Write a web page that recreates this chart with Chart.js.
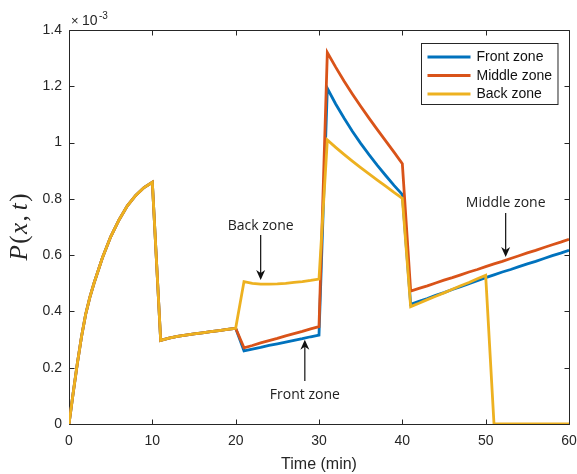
<!DOCTYPE html>
<html>
<head>
<meta charset="utf-8">
<script src="https://cdn.jsdelivr.net/npm/chart.js@4.4.0/dist/chart.umd.min.js"></script>
<style>
  html, body { margin: 0; padding: 0; background: #fff; }
</style>
</head>
<body>
<canvas id="zones" width="577" height="474"></canvas>
<script>
// sample times (min)
const times = [0, 0.5, 1, 1.5, 2, 2.5, 3, 4, 5, 6, 7, 8, 9, 10,
  11, 12, 13, 14, 15, 16, 17, 18, 19, 20,
  21, 22, 23, 24, 25, 26, 27, 28, 29, 30,
  31, 32, 33, 34, 35, 36, 37, 38, 39, 40,
  41, 42, 43, 44, 45, 46, 47, 48, 49, 50,
  51, 52, 53, 54, 55, 56, 57, 58, 59, 60];

// P(x,t) in units of 1e-3; all zones coincide up to t = 20
const sharedStart = [0, 0.11, 0.215, 0.31, 0.39, 0.45, 0.50, 0.59, 0.665, 0.725, 0.775, 0.812, 0.84, 0.859,
  0.297, 0.305, 0.311, 0.316, 0.320, 0.324, 0.328, 0.332, 0.336, 0.340];

const frontTail = [0.260, 0.266, 0.272, 0.279, 0.285, 0.291, 0.297, 0.303, 0.310, 0.316,
  1.193, 1.137, 1.087, 1.040, 0.997, 0.957, 0.919, 0.883, 0.848, 0.815,
  0.425, 0.436, 0.446, 0.457, 0.467, 0.478, 0.488, 0.499, 0.509, 0.520,
  0.530, 0.540, 0.549, 0.559, 0.569, 0.578, 0.588, 0.598, 0.607, 0.617];

const middleTail = [0.271, 0.279, 0.288, 0.296, 0.304, 0.313, 0.321, 0.329, 0.338, 0.346,
  1.320, 1.268, 1.219, 1.173, 1.129, 1.087, 1.046, 1.006, 0.966, 0.925,
  0.472, 0.482, 0.491, 0.501, 0.511, 0.520, 0.530, 0.540, 0.549, 0.559,
  0.569, 0.578, 0.588, 0.598, 0.608, 0.617, 0.627, 0.637, 0.646, 0.656];

const backTail = [0.506, 0.500, 0.497, 0.497, 0.498, 0.500, 0.503, 0.506, 0.510, 0.515,
  1.009, 0.983, 0.958, 0.934, 0.911, 0.889, 0.867, 0.845, 0.823, 0.802,
  0.417, 0.429, 0.442, 0.454, 0.466, 0.479, 0.491, 0.503, 0.516, 0.528,
  0, 0, 0, 0, 0, 0, 0, 0, 0, 0];

const zoneNames = ['Front zone', 'Middle zone', 'Back zone'];
const zoneColors = ['#0072BD', '#D95319', '#EDB120'];

const xTicks = [0, 10, 20, 30, 40, 50, 60];
const yTicks = [0, 0.2, 0.4, 0.6, 0.8, 1, 1.2, 1.4];

// arrow callouts: x (min), text centre, tail and tip (1e-3)
const callouts = [
  { text: 'Back zone', x: 23.0, textY: 0.704, tail: 0.672, tip: 0.512 },
  { text: 'Front zone', x: 28.3, textY: 0.103, tail: 0.153, tip: 0.299 },
  { text: 'Middle zone', x: 52.4, textY: 0.785, tail: 0.750, tip: 0.593 },
];

const AXIS_COLOR = '#262626';
const SANS = '"Liberation Sans", Arial, sans-serif';
const LINE_W = 2.8;

// frame on all four sides with inward ticks
const boxAxes = {
  id: 'boxAxes',
  beforeDatasetsDraw(chart) {
    const { ctx, chartArea: a, scales: { x, y } } = chart;
    const L = Math.round(a.left) + 0.5, R = Math.round(a.right) + 0.5;
    const T = Math.round(a.top) + 0.5, B = Math.round(a.bottom) + 0.5;
    ctx.save();
    ctx.strokeStyle = AXIS_COLOR;
    ctx.lineWidth = 1;
    ctx.beginPath();
    ctx.rect(L, T, R - L, B - T);
    xTicks.forEach(v => {
      const px = Math.round(x.getPixelForValue(v)) + 0.5;
      ctx.moveTo(px, B); ctx.lineTo(px, B - 5);
      ctx.moveTo(px, T); ctx.lineTo(px, T + 5);
    });
    yTicks.forEach(v => {
      const py = Math.round(y.getPixelForValue(v)) + 0.5;
      ctx.moveTo(L, py); ctx.lineTo(L + 5, py);
      ctx.moveTo(R, py); ctx.lineTo(R - 5, py);
    });
    ctx.stroke();
    ctx.restore();
  },
  afterDraw(chart) {
    const { ctx, chartArea: a } = chart;
    ctx.save();
    ctx.fillStyle = AXIS_COLOR;
    ctx.textBaseline = 'alphabetic';
    ctx.textAlign = 'left';
    // exponent marker above the y axis
    ctx.font = '13px ' + SANS;
    ctx.fillText('\u00d7', a.left + 2, a.top - 5);
    ctx.font = '14px ' + SANS;
    ctx.fillText('10', a.left + 13, a.top - 5);
    ctx.font = '10px ' + SANS;
    ctx.fillText('-3', a.left + 30, a.top - 11);

    // y label P(x,t), LaTeX style
    const parts = [['P', true], ['(', false], ['x', true], [',', false], ['t', true], [')', false]];
    const gaps = [1.5, 1.5, 1.5, 5, 1.5, 0];
    ctx.translate(20, (a.top + a.bottom) / 2);
    ctx.rotate(-Math.PI / 2);
    ctx.textBaseline = 'middle';
    let total = 0;
    const widths = parts.map(([s, it], i) => {
      ctx.font = (it ? 'italic ' : '') + '25px "Liberation Serif", "Times New Roman", serif';
      const w = ctx.measureText(s).width;
      total += w + gaps[i];
      return w;
    });
    let cx = -total / 2;
    parts.forEach(([s, it], i) => {
      ctx.font = (it ? 'italic ' : '') + '25px "Liberation Serif", "Times New Roman", serif';
      ctx.fillText(s, cx, 0);
      cx += widths[i] + gaps[i];
    });
    ctx.restore();
  }
};

// text + arrow callouts
const calloutPlugin = {
  id: 'callouts',
  afterDatasetsDraw(chart) {
    const { ctx, scales: { x, y } } = chart;
    ctx.save();
    ctx.strokeStyle = '#111';
    ctx.fillStyle = '#111';
    ctx.lineWidth = 1.2;
    callouts.forEach(c => {
      const px = x.getPixelForValue(c.x);
      const ty = y.getPixelForValue(c.textY);
      const y0 = y.getPixelForValue(c.tail);
      const y1 = y.getPixelForValue(c.tip);
      const dir = y1 > y0 ? 1 : -1;
      ctx.beginPath();
      ctx.moveTo(px, y0);
      ctx.lineTo(px, y1 - dir * 6);
      ctx.stroke();
      ctx.beginPath();
      ctx.moveTo(px, y1);
      ctx.lineTo(px - 4.5, y1 - dir * 10);
      ctx.lineTo(px, y1 - dir * 7);
      ctx.lineTo(px + 4.5, y1 - dir * 10);
      ctx.closePath();
      ctx.fill();
      ctx.font = '14px "Open Sans", "Noto Sans", sans-serif';
      ctx.textAlign = 'center';
      ctx.textBaseline = 'middle';
      ctx.fillStyle = '#222';
      ctx.fillText(c.text, px, ty);
      ctx.fillStyle = '#111';
    });
    ctx.restore();
  }
};

// boxed legend inside the top-right corner of the axes
const boxLegend = {
  id: 'boxLegend',
  afterDraw(chart) {
    const { ctx, chartArea: a } = chart;
    ctx.save();
    ctx.font = '14px ' + SANS;
    const textW = Math.max(...zoneNames.map(n => ctx.measureText(n).width));
    const w = 55 + textW + 6, h = 61;
    const left = Math.round(a.right - 12 - w) + 0.5, top = Math.round(a.top + 13) + 0.5;
    ctx.fillStyle = '#fff';
    ctx.fillRect(left, top, w, h);
    ctx.strokeStyle = AXIS_COLOR;
    ctx.lineWidth = 1;
    ctx.strokeRect(left, top, w, h);
    ctx.textBaseline = 'middle';
    ctx.textAlign = 'left';
    zoneNames.forEach((name, i) => {
      const ry = top + 13.5 + i * 18.5;
      ctx.strokeStyle = zoneColors[i];
      ctx.lineWidth = LINE_W;
      ctx.beginPath();
      ctx.moveTo(left + 6, ry);
      ctx.lineTo(left + 49, ry);
      ctx.stroke();
      ctx.fillStyle = '#111';
      ctx.fillText(name, left + 55, ry + 0.5);
    });
    ctx.restore();
  }
};

const series = [
  sharedStart.concat(frontTail),
  sharedStart.concat(middleTail),
  sharedStart.concat(backTail),
];

new Chart(document.getElementById('zones'), {
  type: 'line',
  data: {
    labels: times,
    datasets: series.map((vals, i) => ({
      label: zoneNames[i],
      data: vals,
      borderColor: zoneColors[i],
      backgroundColor: zoneColors[i],
      borderWidth: LINE_W,
      pointRadius: 0,
      tension: 0,
      order: 2 - i, // back zone on top
    })),
  },
  options: {
    responsive: false,
    animation: false,
    layout: { padding: { top: 30, right: 8, left: 0, bottom: 0 } },
    plugins: { legend: { display: false }, tooltip: { enabled: false } },
    scales: {
      x: {
        type: 'linear', min: 0, max: 60,
        afterBuildTicks: s => { s.ticks = xTicks.map(v => ({ value: v })); },
        afterFit: s => { s.height = 50; s.paddingLeft = 0; s.paddingRight = 0; },
        grid: { display: false, drawTicks: false },
        border: { display: false },
        ticks: { padding: 9, color: AXIS_COLOR, font: { family: SANS, size: 14 }, maxRotation: 0 },
        title: { display: true, text: 'Time (min)', color: AXIS_COLOR, font: { family: SANS, size: 16 }, padding: 0 },
      },
      y: {
        type: 'linear', min: 0, max: 1.4,
        afterBuildTicks: s => { s.ticks = yTicks.map(v => ({ value: v })); },
        afterFit: s => { s.width = 69; s.paddingTop = 0; s.paddingBottom = 0; },
        grid: { display: false, drawTicks: false },
        border: { display: false },
        ticks: { padding: 7, color: AXIS_COLOR, font: { family: SANS, size: 14 }, callback: v => String(v) },
      },
    },
  },
  plugins: [boxAxes, calloutPlugin, boxLegend],
});
</script>
</body>
</html>
